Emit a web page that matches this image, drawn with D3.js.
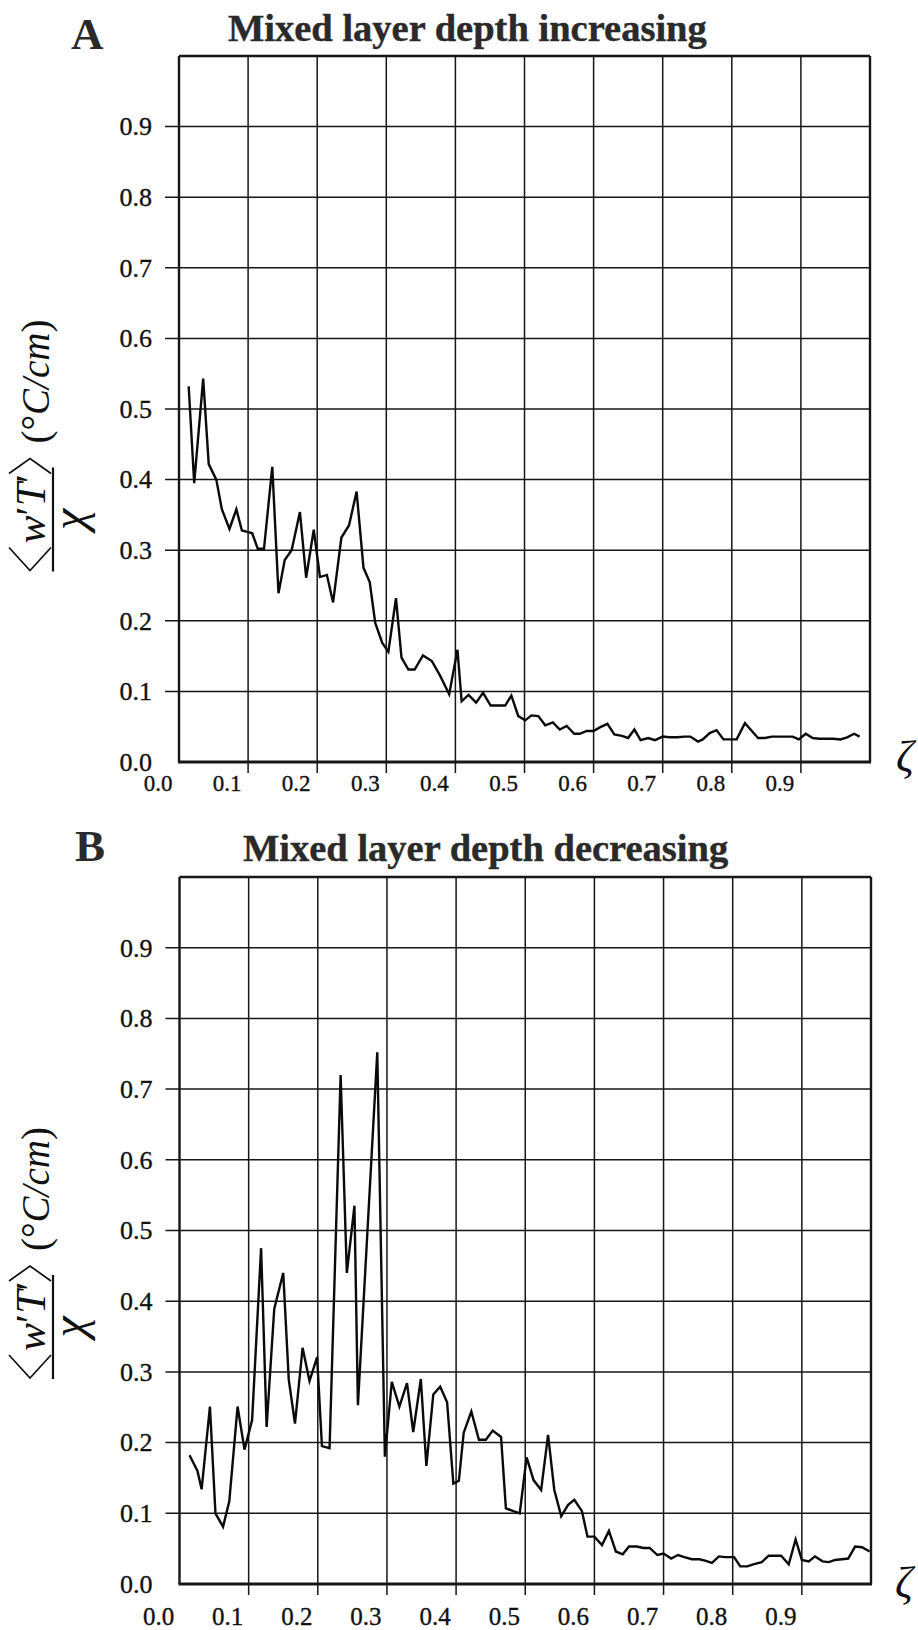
<!DOCTYPE html>
<html><head><meta charset="utf-8">
<script src="https://cdn.jsdelivr.net/npm/d3@7"></script>
<style>html,body{margin:0;padding:0;background:#fff;}svg{display:block;}</style>
</head><body>
<script>
// ---------- data ----------
const xTicks = [0.0,0.1,0.2,0.3,0.4,0.5,0.6,0.7,0.8,0.9];
const yTicks = [0.0,0.1,0.2,0.3,0.4,0.5,0.6,0.7,0.8,0.9];
const gridX = [0.1,0.2,0.3,0.4,0.5,0.6,0.7,0.8,0.9];
const gridY = [0.1,0.2,0.3,0.4,0.5,0.6,0.7,0.8,0.9];
const panelLetters = ["A","B"];
const titles = ["Mixed layer depth increasing","Mixed layer depth decreasing"];

const zetaA = [0.014,0.022,0.035,0.043,0.054,0.062,0.073,0.083,0.091,0.099,0.106,0.114,0.123,0.135,0.144,0.153,0.163,0.175,0.184,0.195,0.204,0.214,0.223,0.235,0.246,0.257,0.267,0.276,0.284,0.294,0.303,0.314,
 0.322,0.332,0.341,0.353,0.366,0.378,0.391,0.403,0.409,0.419,0.430,0.440,0.451,0.462,0.472,0.481,0.491,0.501,0.510,0.520,0.530,0.541,0.551,0.561,0.572,0.580,0.590,0.600,0.609,0.620,0.630,0.641,0.650,0.659,0.668,0.679,0.689,0.700,0.710,0.721,0.732,0.740,0.751,0.758,0.768,0.778,0.788,0.797,0.807,0.819,0.829,0.838,0.848,0.858,0.867,0.877,0.888,0.897,0.907,0.917,0.927,0.937,0.947,0.957,0.967,0.977,0.985];
const fluxA = [0.532,0.395,0.543,0.422,0.400,0.358,0.330,0.358,0.328,0.326,0.324,0.302,0.302,0.418,0.239,0.286,0.300,0.354,0.261,0.329,0.262,0.265,0.226,0.318,0.335,0.383,0.275,0.255,0.197,0.169,0.156,0.232,
 0.148,0.131,0.131,0.151,0.143,0.122,0.096,0.159,0.086,0.095,0.084,0.098,0.080,0.080,0.080,0.094,0.065,0.059,0.066,0.065,0.052,0.056,0.046,0.051,0.040,0.040,0.044,0.044,0.049,0.054,0.039,0.037,0.034,0.046,0.031,0.034,0.031,0.036,0.035,0.035,0.036,0.036,0.029,0.032,0.041,0.045,0.032,0.032,0.032,0.055,0.044,0.034,0.034,0.036,0.036,0.036,0.036,0.032,0.040,0.034,0.033,0.033,0.033,0.032,0.035,0.040,0.036];

const zetaB = [0.0145,0.026,0.032,0.044,0.052,0.063,0.072,0.084,0.094,0.105,0.118,0.126,0.137,0.150,0.158,0.167,0.178,0.188,0.199,0.206,0.217,0.233,0.242,0.253,0.258,0.286,0.297,0.307,0.318,0.329,0.338,0.349,0.357,0.367,0.377,0.387,0.396,0.404,
 0.411,0.422,0.433,0.443,0.453,0.465,0.472,0.483,0.492,0.502,0.512,0.523,0.533,0.542,0.552,0.562,0.571,0.582,0.590,0.600,0.611,0.621,0.631,0.641,0.650,0.661,0.671,0.680,0.691,0.700,0.711,0.721,0.730,0.741,0.752,0.760,0.770,0.780,0.789,0.802,0.811,0.821,0.831,0.842,0.852,0.861,0.870,0.881,0.891,0.900,0.910,0.919,0.930,0.939,0.948,0.958,0.967,0.977,0.987,0.998];
const fluxB = [0.182,0.160,0.134,0.251,0.100,0.081,0.117,0.251,0.190,0.232,0.475,0.222,0.389,0.440,0.289,0.227,0.334,0.287,0.321,0.195,0.192,0.720,0.440,0.535,0.253,0.752,0.180,0.286,0.251,0.284,0.215,0.290,0.167,0.268,0.279,0.257,0.142,0.146,
 0.214,0.244,0.204,0.204,0.217,0.208,0.107,0.103,0.100,0.179,0.147,0.133,0.211,0.133,0.096,0.112,0.119,0.103,0.067,0.067,0.055,0.075,0.046,0.042,0.053,0.053,0.051,0.051,0.041,0.043,0.036,0.041,0.038,0.035,0.035,0.033,0.030,0.039,0.038,0.038,0.025,0.025,0.028,0.031,0.040,0.040,0.040,0.028,0.063,0.034,0.032,0.039,0.032,0.031,0.034,0.035,0.036,0.053,0.052,0.046];

// ---------- layout ----------
const W = 918, H = 1630;
const serif = "'Liberation Serif','DejaVu Serif',serif";
const panels = [
  {letter:panelLetters[0], title:titles[0], zeta:zetaA, flux:fluxA,
   xr:[179,870], yr:[762,56], letterPos:[71,49], titlePos:[228,41], xLabY:791, xLabSize:23, zetaPos:[896,771], ylabY:519.5},
  {letter:panelLetters[1], title:titles[1], zeta:zetaB, flux:fluxB,
   xr:[179.5,871], yr:[1584,877], letterPos:[75,861], titlePos:[243,861], xLabY:1625, xLabSize:25, zetaPos:[895,1597], ylabY:1327}
];

const svg = d3.select("body").append("svg").attr("width",W).attr("height",H)
  .attr("font-family", serif);

panels.forEach(p => {
  const x = d3.scaleLinear().domain([0,1]).range(p.xr);
  const y = d3.scaleLinear().domain([0,1]).range(p.yr);
  const g = svg.append("g");
  const ink = "#161616";

  // grid: horizontal
  g.selectAll(".gy").data(gridY).join("line")
    .attr("x1", x(0)-14).attr("x2", x(1))
    .attr("y1", d=>y(d)).attr("y2", d=>y(d))
    .attr("stroke", ink).attr("stroke-width",1.5);
  // grid: vertical
  g.selectAll(".gx").data(gridX).join("line")
    .attr("x1", d=>x(d)).attr("x2", d=>x(d))
    .attr("y1", y(1)).attr("y2", y(0)+11)
    .attr("stroke", ink).attr("stroke-width",1.5);
  // frame
  g.append("line").attr("x1",x(0)).attr("x2",x(0)).attr("y1",y(1)).attr("y2",y(0)).attr("stroke",ink).attr("stroke-width",2.4);
  g.append("line").attr("x1",x(1)).attr("x2",x(1)).attr("y1",y(1)).attr("y2",y(0)).attr("stroke",ink).attr("stroke-width",2.4);
  g.append("line").attr("x1",x(0)).attr("x2",x(1)).attr("y1",y(1)).attr("y2",y(1)).attr("stroke",ink).attr("stroke-width",2.4);
  g.append("line").attr("x1",x(0)-1).attr("x2",x(1)+1).attr("y1",y(0)).attr("y2",y(0)).attr("stroke",ink).attr("stroke-width",3);

  // data line
  const pts = p.zeta.map((z,i)=>[z,p.flux[i]]);
  g.append("path").datum(pts)
    .attr("d", d3.line().x(d=>x(d[0])).y(d=>y(d[1])))
    .attr("fill","none").attr("stroke","#0a0a0a").attr("stroke-width",2.4).attr("stroke-linejoin","miter");

  // y tick labels
  g.selectAll(".yl").data(yTicks).join("text")
    .attr("x", x(0)-27).attr("y", d=>y(d)).attr("dy","0.34em")
    .attr("text-anchor","end").attr("font-size",26).attr("fill","#111")
    .attr("stroke","#111").attr("stroke-width",0.35)
    .text(d=>d3.format(".1f")(d));
  // x tick labels (printed slightly left of their grid lines)
  g.selectAll(".xl").data(xTicks).join("text")
    .attr("x", d=>x(d)-21).attr("y", p.xLabY)
    .attr("text-anchor","middle").attr("font-size",p.xLabSize).attr("fill","#111")
    .attr("stroke","#111").attr("stroke-width",0.35)
    .text(d=>d3.format(".1f")(d));

  // zeta
  g.append("text").attr("x",p.zetaPos[0]).attr("y",p.zetaPos[1])
    .attr("font-size",44).attr("font-style","italic").attr("fill","#111").text("ζ");

  // panel letter and title
  g.append("text").attr("x",p.letterPos[0]).attr("y",p.letterPos[1])
    .attr("font-size",45).attr("font-weight","bold").attr("fill","#2a2a2a").text(p.letter);
  g.append("text").attr("x",p.titlePos[0]).attr("y",p.titlePos[1])
    .attr("font-size",38.5).attr("font-weight","bold").attr("fill","#2a2a2a")
    .attr("stroke","#2a2a2a").attr("stroke-width",0.4).text(p.title);

  // y axis label: <w'T'>/chi (°C/cm), rotated
  const lab = g.append("g").attr("transform",`translate(53,${p.ylabY}) rotate(-90)`).attr("fill","#111");
  lab.append("line").attr("x1",-52).attr("x2",52).attr("y1",0).attr("y2",0).attr("stroke","#111").attr("stroke-width",2.2);
  lab.append("path").attr("d","M-28,-44 L-51,-23 L-28,-2").attr("fill","none").attr("stroke","#111").attr("stroke-width",1.7);
  lab.append("path").attr("d","M46,-44 L61,-23 L46,-2").attr("fill","none").attr("stroke","#111").attr("stroke-width",1.7);
  const num = lab.append("text").attr("x",-24).attr("y",-8).attr("font-size",42);
  num.append("tspan").attr("font-style","italic").text("w");
  num.append("tspan").text("′");
  num.append("tspan").attr("font-style","italic").text("T");
  num.append("tspan").text("′");
  lab.append("text").attr("x",0).attr("y",32).attr("text-anchor","middle")
    .attr("font-size",48).attr("font-style","italic").text("χ");
  const un = lab.append("text").attr("x",76).attr("y",-4).attr("font-size",39);
  un.append("tspan").text("(");
  un.append("tspan").text("°");
  un.append("tspan").attr("font-style","italic").text("C/cm");
  un.append("tspan").text(")");
});
</script>
</body></html>
